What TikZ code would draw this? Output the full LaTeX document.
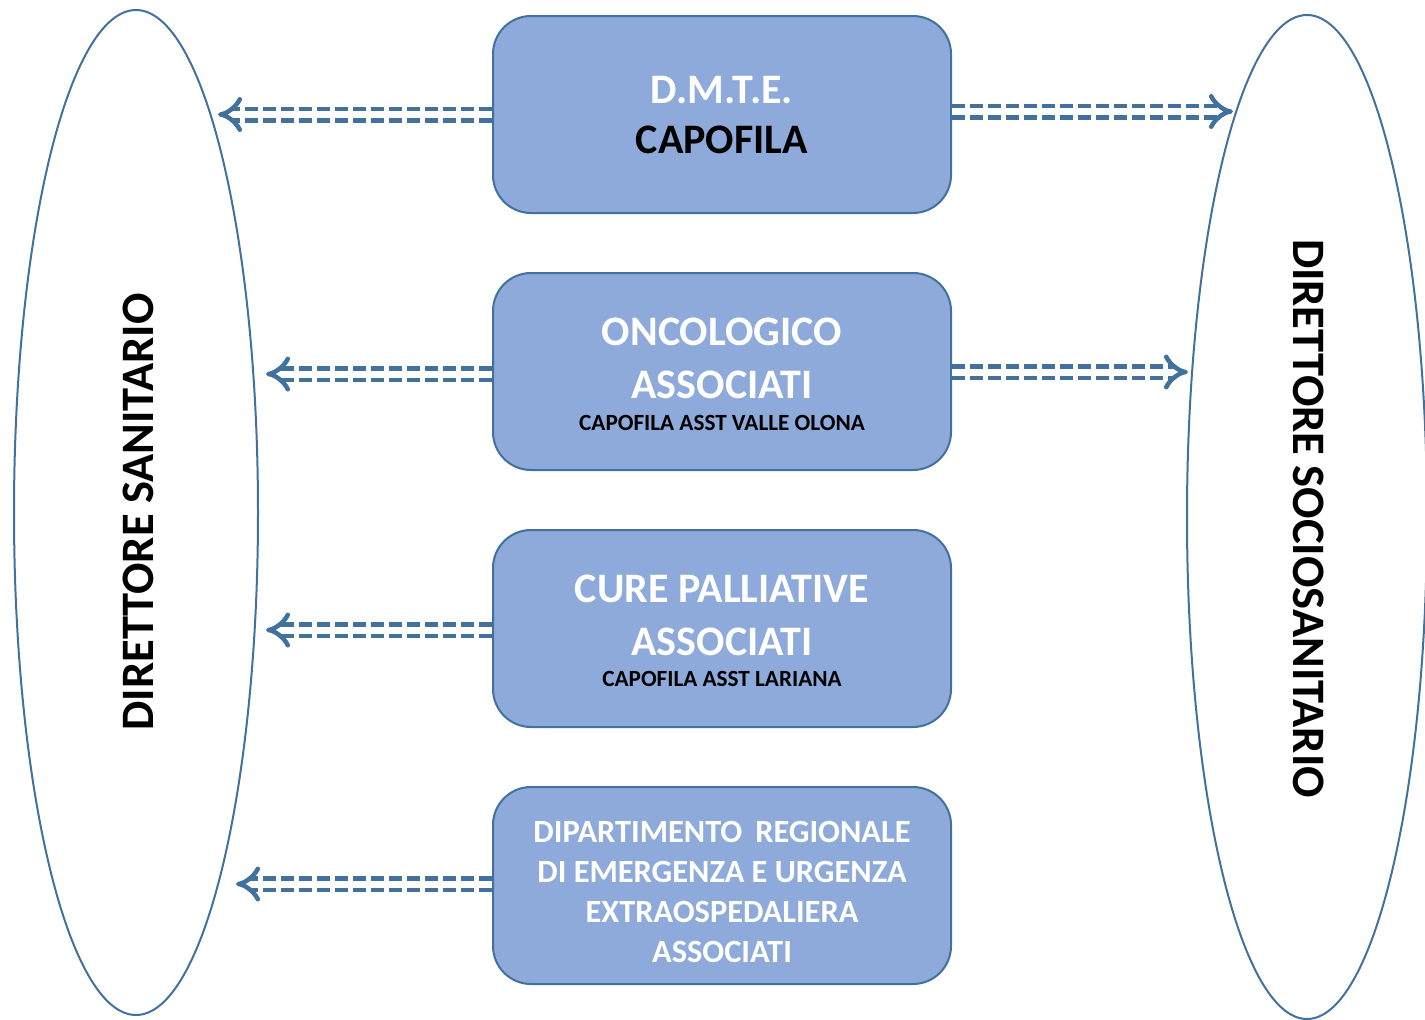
\documentclass[tikz,border=0pt]{standalone}
\usepackage{fontspec}
\setmainfont{Carlito}
\usetikzlibrary{arrows.meta,shapes.geometric}
\definecolor{boxfill}{HTML}{8EAADB}
\definecolor{edge}{HTML}{41719C}
\begin{document}
\begin{tikzpicture}[x=1pt,y=-1pt,
  box/.style={draw=edge, fill=boxfill, line width=2pt, rounded corners=38pt,
    minimum width=458pt, minimum height=197pt, inner sep=0pt},
  oval/.style={draw=edge, line width=2pt, ellipse, inner sep=0pt},
  bigw/.style={font=\fontsize{42}{42}\selectfont\bfseries, text=white, anchor=base, inner sep=0pt},
  bigk/.style={font=\fontsize{42}{42}\selectfont\bfseries, text=black, anchor=base, inner sep=0pt},
  smallk/.style={font=\fontsize{23.2}{23.2}\selectfont\bfseries, text=black, anchor=base, inner sep=0pt},
  midw/.style={font=\fontsize{32.4}{32.4}\selectfont\bfseries, text=white, anchor=base, inner sep=0pt},
  side/.style={font=\fontsize{46.5}{46.5}\selectfont\bfseries, text=black, inner sep=0pt},
  link/.style={draw=edge, line width=4.5pt, double=white, double distance=7pt,
    dash pattern=on 13pt off 5pt, -{Implies}}
]
\useasboundingbox (0,0) rectangle (1425,1020);
\begin{scope}
\clip (0,0) rectangle (1425,1020);
\node[oval, minimum width=244pt, minimum height=1005pt] (ds) at (136,512.5) {};
\node[oval, minimum width=240pt, minimum height=1004pt] (dss) at (1307,517) {};
\end{scope}
\node[side, rotate=90] (dslab) at (138.5,512) {DIRETTORE SANITARIO};
\node[side, rotate=-90] (dsslab) at (1308.5,518.5) {DIRETTORE SOCIOSANITARIO};

\node[box] (b1) at (722,114.5) {};
\node[box] (b2) at (722,371.5) {};
\node[box] (b3) at (722,628.5) {};
\node[box] (b4) at (722,885.5) {};

\node[bigw] (t1a) at (722,103) {D.M.T.E.};
\node[bigk] (t1b) at (722,153) {CAPOFILA};

\node[bigw] (t2a) at (722,345) {ONCOLOGICO};
\node[bigw] (t2b) at (722,398) {ASSOCIATI};
\node[smallk] (t2c) at (722,430) {CAPOFILA ASST VALLE OLONA};

\node[bigw] (t3a) at (722,602) {CURE PALLIATIVE};
\node[bigw] (t3b) at (722,655) {ASSOCIATI};
\node[smallk] (t3c) at (722,686) {CAPOFILA ASST LARIANA};

\node[midw] (t4a) at (722,842) {DIPARTIMENTO\hspace{0.4em}REGIONALE};
\node[midw] (t4b) at (722,882) {DI EMERGENZA E URGENZA};
\node[midw] (t4c) at (722,922) {EXTRAOSPEDALIERA};
\node[midw] (t4d) at (722,962) {ASSOCIATI};

\coordinate (e1l) at (218,114.5);
\coordinate (e1r) at (1233,111.5);
\coordinate (e2l) at (266,374);
\coordinate (e2r) at (1188,372);
\coordinate (e3l) at (266,630);
\coordinate (e4l) at (236,884);

\draw[link] ([yshift=0pt]b1.west) -- (e1l);
\draw[link] ([yshift=3pt]b1.east) -- (e1r);
\draw[link] ([yshift=-2.5pt]b2.west) -- (e2l);
\draw[link] ([yshift=-0.5pt]b2.east) -- (e2r);
\draw[link] ([yshift=-1.5pt]b3.west) -- (e3l);
\draw[link] ([yshift=1.5pt]b4.west) -- (e4l);
\end{tikzpicture}
\end{document}
